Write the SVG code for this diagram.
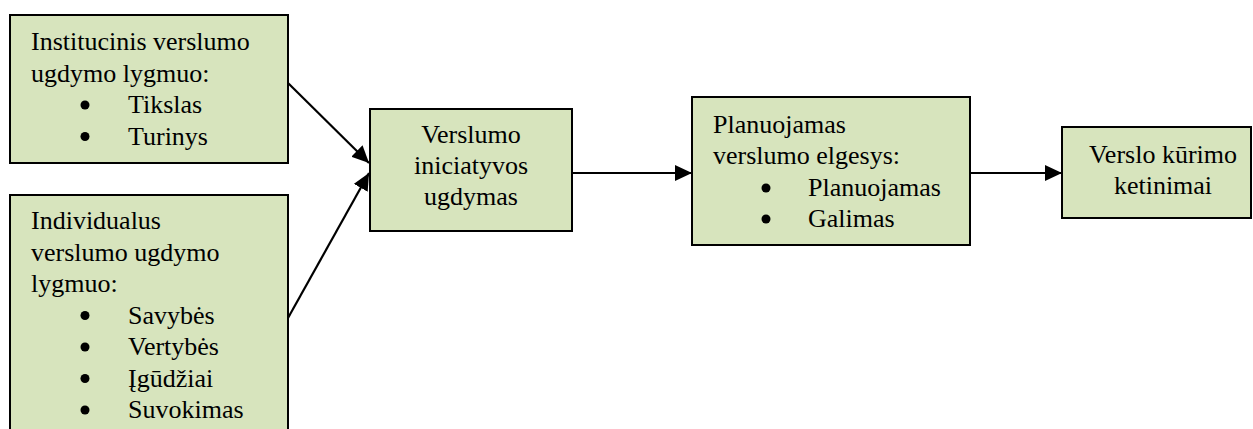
<svg xmlns="http://www.w3.org/2000/svg" width="1253" height="429" viewBox="0 0 1253 429">
<style>
.box{fill:#D7E4BD;stroke:#000;stroke-width:2}
text{font-family:'Liberation Serif','Times New Roman',Tinos,'DejaVu Serif',serif;font-size:26px;fill:#000}
.c{text-anchor:middle}
.b{fill:#000}
.con{stroke:#000;stroke-width:2.2;fill:none;marker-end:url(#ah)}
</style>
<defs>
<marker id="ah" markerUnits="userSpaceOnUse" markerWidth="18" markerHeight="16" refX="17" refY="8" orient="auto">
<path d="M0,0 L17,8 L0,16 z" fill="#000"/>
</marker>
</defs>
<rect width="1253" height="429" fill="#fff"/>
<g id="connectors">
<line class="con" x1="288" y1="83" x2="369" y2="163"/>
<line class="con" x1="288" y1="318" x2="369" y2="173"/>
<line class="con" x1="572" y1="173" x2="692" y2="173"/>
<line class="con" x1="970" y1="173" x2="1062" y2="173"/>
</g>
<g id="n1">
<rect class="box" x="10" y="15" width="278" height="148"/>
<text x="31" y="50">Institucinis verslumo</text>
<text x="31" y="81.5">ugdymo lygmuo:</text>
<circle class="b" cx="85" cy="105" r="4.5"/>
<text x="128" y="113">Tikslas</text>
<circle class="b" cx="85" cy="136.5" r="4.5"/>
<text x="128" y="144.5">Turinys</text>
</g>
<g id="n2">
<rect class="box" x="10" y="195" width="278" height="250"/>
<text x="31" y="229">Individualus</text>
<text x="31" y="260.5">verslumo ugdymo</text>
<text x="31" y="292">lygmuo:</text>
<circle class="b" cx="85" cy="315.5" r="4.5"/>
<text x="128" y="323.5">Savybės</text>
<circle class="b" cx="85" cy="347" r="4.5"/>
<text x="128" y="355">Vertybės</text>
<circle class="b" cx="85" cy="378.5" r="4.5"/>
<text x="128" y="386.5">Įgūdžiai</text>
<circle class="b" cx="85" cy="410" r="4.5"/>
<text x="128" y="418">Suvokimas</text>
</g>
<g id="n3">
<rect class="box" x="370" y="109" width="202" height="122"/>
<text class="c" x="471" y="143">Verslumo</text>
<text class="c" x="471" y="174">iniciatyvos</text>
<text class="c" x="471" y="205">ugdymas</text>
</g>
<g id="n4">
<rect class="box" x="692" y="97" width="278" height="148"/>
<text x="713" y="133">Planuojamas</text>
<text x="713" y="164">verslumo elgesys:</text>
<circle class="b" cx="766" cy="188" r="4.5"/>
<text x="808" y="196">Planuojamas</text>
<circle class="b" cx="766" cy="219" r="4.5"/>
<text x="808" y="227">Galimas</text>
</g>
<g id="n5">
<rect class="box" x="1062" y="127" width="189" height="91"/>
<text class="c" x="1163" y="163">Verslo kūrimo</text>
<text class="c" x="1163" y="194">ketinimai</text>
</g>
</svg>
